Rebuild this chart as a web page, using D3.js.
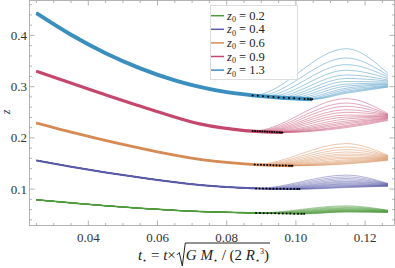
<!DOCTYPE html>
<html>
<head>
<meta charset="utf-8">
<script src="https://cdn.jsdelivr.net/npm/d3@7"></script>
<style>
  body { margin: 0; background: #fff; }
</style>
</head>
<body>
<div id="chart"></div>
<script>
const width = 395;
const height = 268;

// main (thick) curves, [t, z]
const main02 = [[0.025, 0.079], [0.035, 0.0731], [0.045, 0.0675], [0.055, 0.0625], [0.065, 0.0585], [0.0722, 0.0562], [0.08, 0.0546], [0.09, 0.0531], [0.1024, 0.0517]];
const main04 = [[0.025, 0.156], [0.035, 0.1437], [0.045, 0.1325], [0.055, 0.1225], [0.065, 0.1135], [0.0722, 0.108], [0.08, 0.104], [0.0885, 0.1013], [0.101, 0.1000]];
const main06 = [[0.025, 0.229], [0.0377, 0.207], [0.05, 0.1873], [0.06, 0.1728], [0.0722, 0.1582], [0.08, 0.1522], [0.0881, 0.1478], [0.099, 0.1455]];
const main09 = [[0.025, 0.330], [0.0434, 0.2877], [0.0578, 0.256], [0.0722, 0.2272], [0.0852, 0.2142], [0.0961, 0.2105]];
const main13 = [[0.025, 0.4435], [0.035, 0.4013], [0.045, 0.3653], [0.055, 0.3357], [0.065, 0.3123], [0.0722, 0.2994], [0.08, 0.2891], [0.0875, 0.2829], [0.095, 0.2788], [0.1047, 0.2752]];

// thin branch lines: branch time, value near the bump, value at the end
const tMid = 0.1145;
const tEnd = 0.1266;

const fanStart02 = [0.0885, 0.0896, 0.0907, 0.0918, 0.0929, 0.0940, 0.0951, 0.0962, 0.0973, 0.0984, 0.0995, 0.1006, 0.1016, 0.1024];
const fanMid02 = [0.0673, 0.0655, 0.064, 0.0627, 0.0615, 0.0604, 0.0595, 0.0587, 0.058, 0.0573, 0.0567, 0.0562, 0.0557, 0.0553];
const fanEnd02 = [0.0589, 0.0585, 0.058, 0.0576, 0.0572, 0.0568, 0.0564, 0.056, 0.0557, 0.0554, 0.0551, 0.0549, 0.0547, 0.0544];

const fanStart04 = [0.0885, 0.0895, 0.0905, 0.0915, 0.0925, 0.0935, 0.0945, 0.0955, 0.0965, 0.0975, 0.0985, 0.0995, 0.1004, 0.1010];
const fanMid04 = [0.1273, 0.1238, 0.1207, 0.118, 0.1154, 0.1135, 0.1115, 0.110, 0.1085, 0.107, 0.1058, 0.1047, 0.1038, 0.103];
const fanEnd04 = [0.111, 0.1105, 0.110, 0.1095, 0.109, 0.1085, 0.108, 0.1075, 0.107, 0.1067, 0.1064, 0.1062, 0.106, 0.1058];

const fanStart06 = [0.0881, 0.0890, 0.0899, 0.0908, 0.0917, 0.0926, 0.0935, 0.0944, 0.0953, 0.0962, 0.0971, 0.0980, 0.0986, 0.0990];
const fanMid06 = [0.1889, 0.1822, 0.1772, 0.1725, 0.1686, 0.1655, 0.1622, 0.1597, 0.1572, 0.155, 0.153, 0.1515, 0.150, 0.149];
const fanEnd06 = [0.166, 0.165, 0.1643, 0.1635, 0.1628, 0.162, 0.1612, 0.1605, 0.1598, 0.159, 0.1582, 0.1575, 0.1568, 0.156];

const fanStart09 = [0.0875, 0.0882, 0.0889, 0.0896, 0.0903, 0.0910, 0.0917, 0.0924, 0.0931, 0.0938, 0.0945, 0.0952, 0.0957, 0.0961];
const fanMid09 = [0.2766, 0.268, 0.2616, 0.255, 0.2499, 0.2446, 0.2407, 0.2368, 0.2329, 0.2298, 0.227, 0.224, 0.222, 0.220];
const fanEnd09 = [0.2474, 0.246, 0.245, 0.2445, 0.244, 0.243, 0.242, 0.241, 0.240, 0.239, 0.238, 0.237, 0.2355, 0.234];

const fanStart13 = [0.0875, 0.0890, 0.0905, 0.0920, 0.0935, 0.0950, 0.0965, 0.0980, 0.0995, 0.1010, 0.1025, 0.1035, 0.1042, 0.1047];
const fanMid13 = [0.374, 0.356, 0.343, 0.332, 0.323, 0.316, 0.310, 0.305, 0.301, 0.297, 0.294, 0.291, 0.289, 0.287];
const fanEnd13 = [0.326, 0.322, 0.319, 0.316, 0.313, 0.311, 0.309, 0.307, 0.305, 0.304, 0.302, 0.301, 0.300, 0.299];

const labels = ["0.2", "0.4", "0.6", "0.9", "1.3"];
const colors = ["#4f9a3c", "#5a5ca8", "#d68b55", "#c4486e", "#3b8fbe"];
const widths = [1.5, 2, 2.8, 3.2, 3.8];

const xTicks = [0.04, 0.06, 0.08, 0.10, 0.12];
const yTicks = [0.1, 0.2, 0.3, 0.4];

const families = [
  { main: main02, start: fanStart02, mid: fanMid02, end: fanEnd02 },
  { main: main04, start: fanStart04, mid: fanMid04, end: fanEnd04 },
  { main: main06, start: fanStart06, mid: fanMid06, end: fanEnd06 },
  { main: main09, start: fanStart09, mid: fanMid09, end: fanEnd09 },
  { main: main13, start: fanStart13, mid: fanMid13, end: fanEnd13 }
];

const pLeft = 29.5, pRight = 394.5, pTop = 0.5, pBottom = 225.5;
const serif = "'Liberation Serif', 'Times New Roman', 'DejaVu Serif', serif";

const x = d3.scaleLinear().domain([0.023, 0.1285]).range([pLeft, pRight]);
const y = d3.scaleLinear().domain([0.0289, 0.4682]).range([pBottom, pTop]);

const svg = d3.select("#chart")
  .append("svg")
  .attr("width", width)
  .attr("height", height)
  .attr("font-family", serif)
  .style("display", "block");

svg.append("defs").append("clipPath").attr("id", "plot")
  .append("rect")
  .attr("x", pLeft).attr("y", pTop)
  .attr("width", pRight - pLeft).attr("height", pBottom - pTop);

const line = d3.line()
  .x(d => x(d[0]))
  .y(d => y(d[1]))
  .curve(d3.curveMonotoneX);

const plot = svg.append("g").attr("clip-path", "url(#plot)");

families.forEach((f, i) => {
  const g = plot.append("g");
  const onMain = d3.scaleLinear().domain(f.main.map(d => d[0])).range(f.main.map(d => d[1]));
  const fan = f.start.map((t0, j) => {
    const pts = f.main.filter(d => d[0] < t0 - 0.0005);
    pts.push([t0, onMain(t0)], [tMid, f.mid[j]], [tEnd, f.end[j]]);
    return pts;
  });

  g.selectAll(".fan")
    .data(fan)
    .enter()
    .append("path")
    .attr("class", "fan")
    .attr("d", line)
    .attr("fill", "none")
    .attr("stroke", colors[i])
    .attr("stroke-opacity", 0.6)
    .attr("stroke-width", 0.8);

  g.append("path")
    .attr("d", line(f.main))
    .attr("fill", "none")
    .attr("stroke", colors[i])
    .attr("stroke-width", widths[i]);

  g.selectAll(".dot")
    .data(f.start)
    .enter()
    .append("circle")
    .attr("class", "dot")
    .attr("cx", d => x(d))
    .attr("cy", d => y(onMain(d)))
    .attr("r", 1)
    .attr("fill", "#000");
});

// frame
svg.append("rect")
  .attr("x", pLeft).attr("y", pTop)
  .attr("width", pRight - pLeft).attr("height", pBottom - pTop)
  .attr("fill", "none")
  .attr("stroke", "#b4b4b4")
  .attr("stroke-width", 1);

const xMinor = d3.range(0.025, 0.1285, 0.005);
const yMinor = d3.range(0.04, 0.468, 0.02);

const ticks = svg.append("g").attr("stroke", "#a0a0a0").attr("stroke-width", 0.8);
xMinor.forEach(t => {
  const major = xTicks.some(v => Math.abs(v - t) < 1e-6);
  const len = major ? 5 : 2.5;
  ticks.append("line").attr("x1", x(t)).attr("x2", x(t)).attr("y1", pBottom).attr("y2", pBottom - len);
  ticks.append("line").attr("x1", x(t)).attr("x2", x(t)).attr("y1", pTop).attr("y2", pTop + len);
});
yMinor.forEach(v => {
  const major = yTicks.some(w => Math.abs(w - v) < 1e-6);
  const len = major ? 5 : 2.5;
  ticks.append("line").attr("y1", y(v)).attr("y2", y(v)).attr("x1", pLeft).attr("x2", pLeft + len);
  ticks.append("line").attr("y1", y(v)).attr("y2", y(v)).attr("x1", pRight).attr("x2", pRight - len);
});

svg.append("g").selectAll("text")
  .data(xTicks)
  .enter()
  .append("text")
  .attr("x", d => x(d))
  .attr("y", 242)
  .attr("text-anchor", "middle")
  .attr("font-size", 13)
  .attr("fill", "#333")
  .text(d => d3.format(".2f")(d));

svg.append("g").selectAll("text")
  .data(yTicks)
  .enter()
  .append("text")
  .attr("x", 27)
  .attr("y", d => y(d) + 4.5)
  .attr("text-anchor", "end")
  .attr("font-size", 13)
  .attr("fill", "#333")
  .text(d => d3.format(".1f")(d));

// y label
svg.append("text")
  .attr("transform", "translate(10,112) rotate(-90)")
  .attr("text-anchor", "middle")
  .attr("font-size", 12)
  .attr("font-style", "italic")
  .attr("fill", "#333")
  .text("z");

// x label
const xl = svg.append("g").attr("fill", "#222").attr("font-size", 15);
const t1 = xl.append("text").attr("x", 138).attr("y", 260);
t1.append("tspan").attr("font-style", "italic").text("t");
t1.append("tspan").attr("font-size", 8).attr("dy", 3).text("\u22c6");
t1.append("tspan").attr("dy", -3).text(" = ");
t1.append("tspan").attr("font-style", "italic").text("t");
t1.append("tspan").text("\u00d7");
const t1End = 138 + t1.node().getComputedTextLength();

const t2x = t1End + 10;
const t2 = xl.append("text").attr("x", t2x).attr("y", 260);
t2.append("tspan").attr("font-style", "italic").text("G");
t2.append("tspan").text(" ");
t2.append("tspan").attr("font-style", "italic").text("M");
t2.append("tspan").attr("font-size", 8).attr("dy", 3).text("\u22c6");
t2.append("tspan").attr("dy", -3).text(" / (2 ");
t2.append("tspan").attr("font-style", "italic").text("R");
t2.append("tspan").attr("font-size", 8).attr("dy", 3).text("\u22c6");
t2.append("tspan").attr("font-size", 8).attr("dy", -9).text("3");
t2.append("tspan").attr("dy", 6).text(")");
const t2End = t2x + t2.node().getComputedTextLength() + 1;

xl.append("path")
  .attr("d", `M${t1End + 1},255 L${t1End + 3.5},252.5 L${t1End + 6.5},266 L${t1End + 9.5},243 L${t2End},243`)
  .attr("fill", "none")
  .attr("stroke", "#222")
  .attr("stroke-width", 1);

// legend
const legend = svg.append("g");
legend.append("rect")
  .attr("x", 210.5).attr("y", 5.5)
  .attr("width", 87).attr("height", 74)
  .attr("fill", "#fff")
  .attr("fill-opacity", 0.85)
  .attr("stroke", "#ddd");

const items = legend.selectAll(".item")
  .data(labels)
  .enter()
  .append("g")
  .attr("class", "item")
  .attr("transform", (d, i) => `translate(211,${15.7 + i * 13.6})`);

items.append("line")
  .attr("x1", 0).attr("x2", 13)
  .attr("stroke", (d, i) => colors[i])
  .attr("stroke-width", 1.5);

const lt = items.append("text")
  .attr("x", 16)
  .attr("y", 4)
  .attr("font-size", 12.5)
  .attr("fill", "#222");
lt.append("tspan").attr("font-style", "italic").text("z");
lt.append("tspan").attr("font-size", 8).attr("dy", 2.5).text("0");
lt.append("tspan").attr("dy", -2.5).text(d => " = " + d);
</script>
</body>
</html>
